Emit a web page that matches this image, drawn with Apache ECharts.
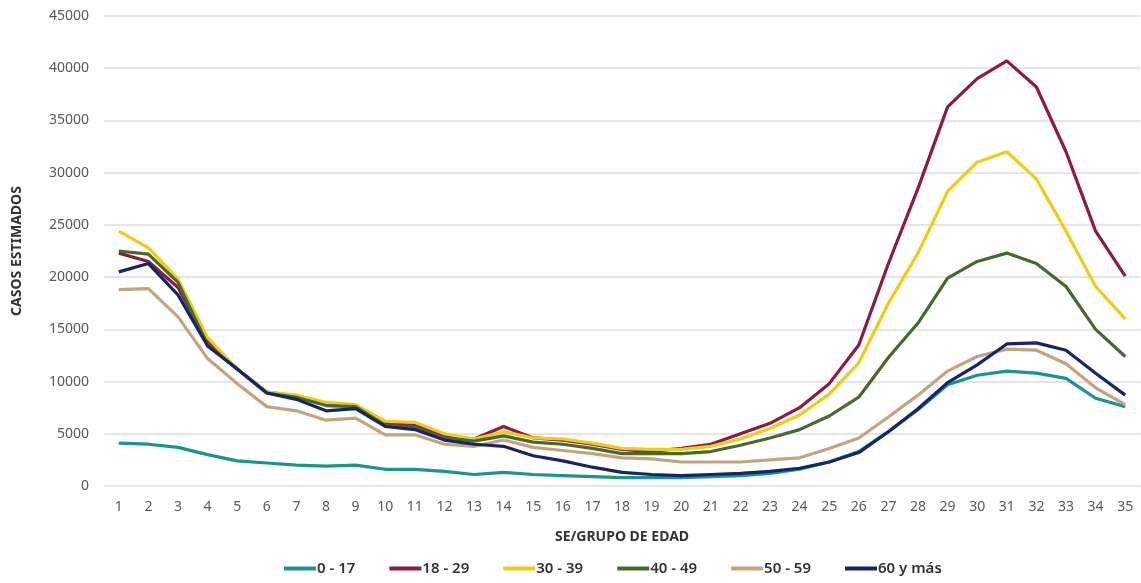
<!DOCTYPE html>
<html>
<head>
<meta charset="utf-8">
<script src="https://cdn.jsdelivr.net/npm/echarts@6/dist/echarts.min.js"></script>
<style>html,body{margin:0;padding:0;background:#fff}#c{width:1141px;height:583px}</style>
</head>
<body>
<div id="c"></div>
<script>
const categories = Array.from({length: 35}, (_, i) => String(i + 1));
const seriesNames = ['0 - 17', '18 - 29', '30 - 39', '40 - 49', '50 - 59', '60 y más'];
const s0_17 = [4100,4000,3700,3000,2400,2200,2000,1900,2000,1600,1600,1400,1100,1300,1100,1000,900,800,800,800,900,1000,1200,1600,2300,3300,5200,7300,9700,10600,11000,10800,10300,8400,7600];
const s18_29 = [22300,21500,19000,13800,11200,9000,8600,7800,7700,6000,5800,4800,4500,5700,4600,4400,4000,3500,3300,3600,4000,5000,6000,7500,9800,13500,21300,28500,36300,39000,40700,38200,32000,24400,20100];
const s30_39 = [24400,22800,19800,14200,11200,9000,8700,8000,7800,6200,6100,5000,4500,5200,4600,4500,4100,3600,3500,3500,3800,4500,5500,6800,8800,11800,17500,22300,28200,31000,32000,29400,24400,19100,16000];
const s40_49 = [22500,22200,19500,13500,11200,8900,8500,7700,7600,5800,5600,4600,4300,4800,4200,4000,3600,3100,3100,3100,3300,3900,4600,5400,6700,8500,12300,15600,19900,21500,22300,21300,19100,15000,12400];
const s50_59 = [18800,18900,16200,12200,9800,7600,7200,6300,6500,4900,4900,4000,3800,4400,3700,3400,3100,2700,2600,2300,2300,2300,2500,2700,3600,4600,6600,8700,11000,12400,13100,13000,11700,9400,7800];
const s60 = [20500,21300,18300,13400,11200,8900,8300,7200,7400,5700,5400,4400,4000,3800,2900,2400,1800,1300,1100,1000,1100,1200,1400,1700,2300,3200,5200,7400,9900,11600,13600,13700,13000,10800,8700];
const yTicks = [0,5000,10000,15000,20000,25000,30000,35000,40000,45000];

const allData = [s0_17, s18_29, s30_39, s40_49, s50_59, s60];
const colors = ['#17968a','#8e1a42','#f2cb12','#456a2c','#c4a47f','#16256a'];
const font = 'Noto Sans';

const chart = echarts.init(document.getElementById('c'));
chart.setOption({
  animation: false,
  color: colors,
  textStyle: {fontFamily: font},
  grid: {left: 104, right: 1, top: 16, bottom: 97, containLabel: false},
  legend: {
    bottom: 2, left: 279,
    itemWidth: 32, itemHeight: 4, itemGap: 34,
    icon: 'rect',
    textStyle: {fontFamily: font, fontSize: 15, fontWeight: 600, color: '#333', padding: [0,0,0,-4]},
    data: seriesNames
  },
  xAxis: {
    type: 'category',
    data: categories,
    boundaryGap: true,
    name: 'SE/GRUPO DE EDAD',
    nameLocation: 'middle',
    nameGap: 44,
    nameTextStyle: {fontFamily: font, fontSize: 14, fontWeight: 'bold', color: '#333'},
    axisLine: {show: false},
    axisTick: {show: false},
    axisLabel: {fontFamily: font, fontSize: 14, color: '#595959', margin: 14, interval: 0}
  },
  yAxis: {
    type: 'value',
    min: yTicks[0], max: yTicks[yTicks.length - 1], interval: 5000,
    name: 'CASOS ESTIMADOS',
    nameLocation: 'middle',
    nameGap: 80,
    nameTextStyle: {fontFamily: font, fontSize: 14, fontWeight: 'bold', color: '#333'},
    axisLine: {show: false},
    axisTick: {show: false},
    axisLabel: {fontFamily: font, fontSize: 14, color: '#595959', margin: 15, formatter: v => String(v)},
    splitLine: {lineStyle: {color: '#dcdcdc', width: 1.5}}
  },
  series: seriesNames.map((n, i) => ({
    name: n,
    type: 'line',
    data: allData[i],
    symbol: 'none',
    lineStyle: {width: 3.2, color: colors[i]},
    z: 2 + i
  }))
});
</script>
</body>
</html>
